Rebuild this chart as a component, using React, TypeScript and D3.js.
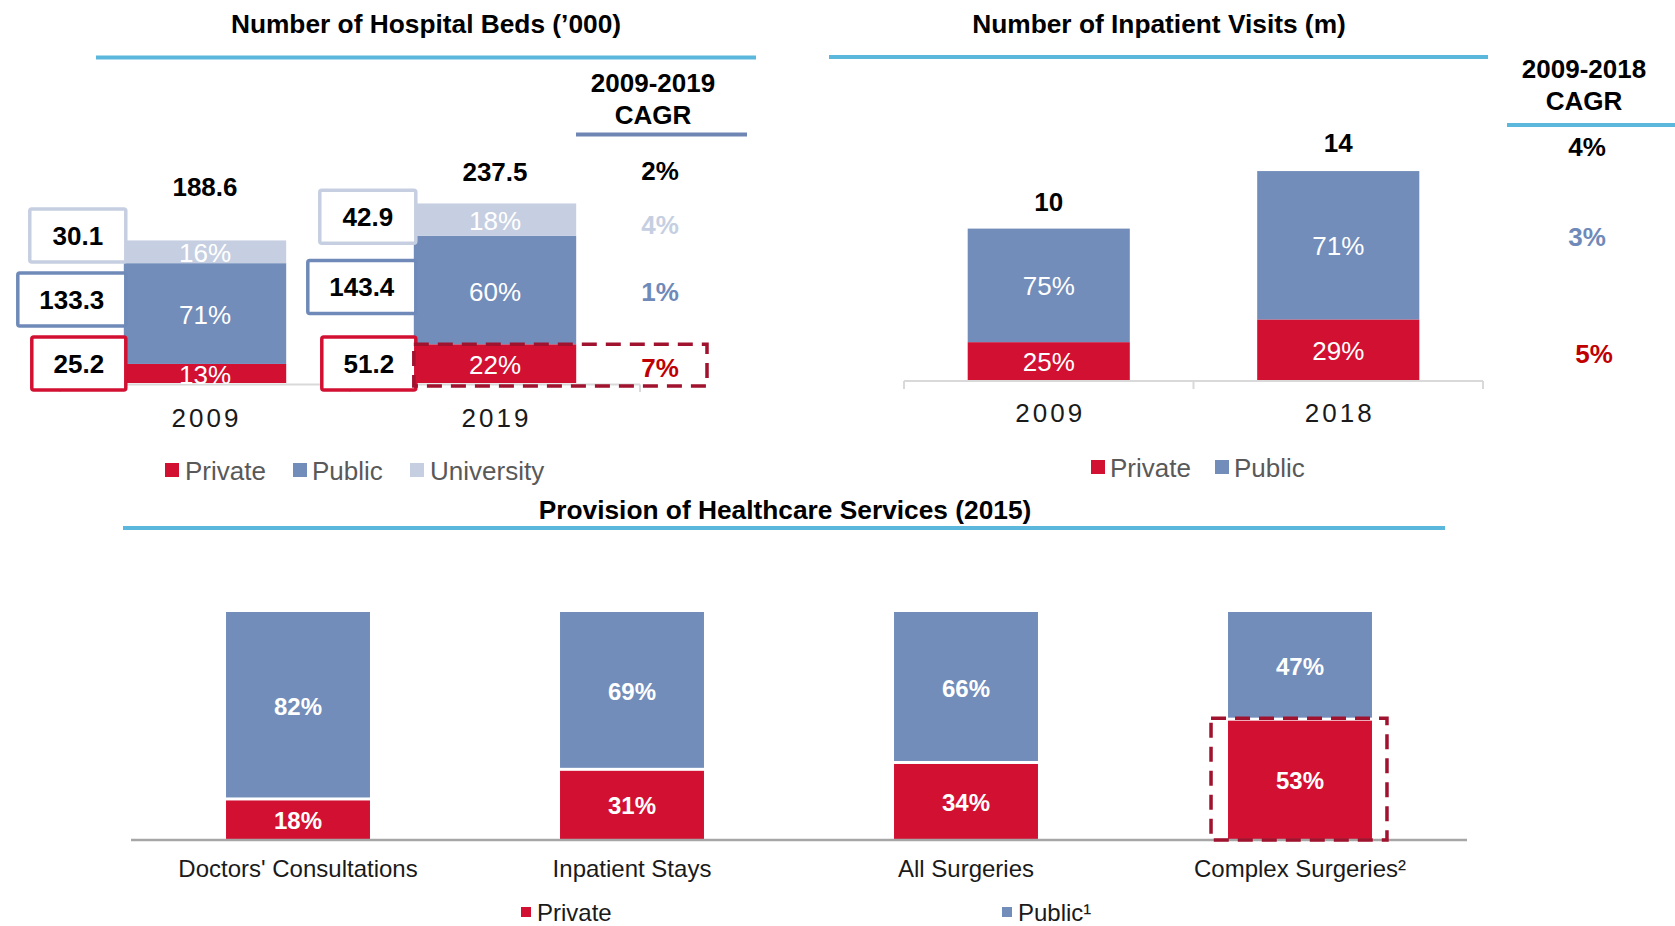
import React from "react";
import * as d3 from "d3";

// ---------- DATA ----------
const bedYears = ["2009", "2019"];
const bedsPrivate = [25.2, 51.2];
const bedsPublic = [133.3, 143.4];
const bedsUniversity = [30.1, 42.9];
const bedsCagrLabel = "2009-2019";
const bedsCagr = { total: "2%", University: "4%", Public: "1%", Private: "7%" };

const visitYears = ["2009", "2018"];
const visitsPrivate = [2.5, 4.0];
const visitsPublic = [7.5, 9.8];
const visitsCagrLabel = "2009-2018";
const visitsCagr = { total: "4%", Public: "3%", Private: "5%" };

const serviceCats = ["Doctors' Consultations", "Inpatient Stays", "All Surgeries", "Complex Surgeries²"];
const servicePrivate = [18, 31, 34, 53];
const servicePublic = [82, 69, 66, 47];

// ---------- STYLE ----------
const FONT = "'Liberation Sans', Arial, Helvetica, sans-serif";
const COL = {
  Private: "#D21032",
  Public: "#728DBA",
  University: "#C6CFE1",
  cyan: "#5BB7DC",
  steel: "#6F86B5",
  dashRed: "#A0122E",
  cagrRed: "#C00000",
  axis: "#D9D9D9",
  axisDark: "#A6A6A6",
  legendText: "#595959",
  boxPublic: "#6F8AB8",
};

function Title({ x, y, text, x1, x2, ly }: any) {
  return (
    <g>
      <text x={x} y={y} textAnchor="middle" dominantBaseline="central" fontFamily={FONT} fontWeight="bold" fontSize={26.3} fill="#000">
        {text}
      </text>
      <line x1={x1} x2={x2} y1={ly} y2={ly} stroke={COL.cyan} strokeWidth={4} />
    </g>
  );
}

function HospitalBeds() {
  const keys = ["Private", "Public", "University"];
  const rows = bedYears.map((yr, i) => ({ year: yr, Private: bedsPrivate[i], Public: bedsPublic[i], University: bedsUniversity[i] }));
  const totals = rows.map((r) => r.Private + r.Public + r.University);
  const x = d3.scaleBand().domain(bedYears).range([60, 640]).paddingInner(0.44).paddingOuter(0.22);
  const y = d3.scaleLinear().domain([0, 250]).range([383, 194]);
  const stack = d3.stack<any>().keys(keys)(rows as any);
  const bw = x.bandwidth();
  const totalOffsets = [53, 31];
  const boxW: any = { Private: 94, Public: 108, University: 96 };
  const boxBorder: any = { Private: COL.Private, Public: COL.boxPublic, University: COL.University };
  const boxH = 53;
  const boxGap = 11;

  // annotation boxes placed bottom-up
  const boxes: any[] = [];
  bedYears.forEach((yr, i) => {
    let prevTop = 0;
    stack.forEach((s, k) => {
      const d = s[i];
      const segC = (y(d[0]) + y(d[1])) / 2 - 3;
      let cy;
      if (k === 0) cy = y(0) + 7 - boxH / 2;
      else cy = Math.min(segC, prevTop - boxGap - boxH / 2);
      prevTop = cy - boxH / 2;
      const key = keys[k];
      boxes.push({ key, x: (x(yr) as number) - boxW[key] + 2, y: cy - boxH / 2, w: boxW[key], cy, value: (rows[i] as any)[key] });
    });
  });

  const last = bedYears.length - 1;
  const lastX = x(bedYears[last]) as number;
  const cagrX = 660;
  const segCenter = (k: number) => (y(stack[k][last][0]) + y(stack[k][last][1])) / 2;
  const cagrRows = [
    { text: bedsCagr.total, y: y(totals[last]) - totalOffsets[last] - 1, fill: "#000" },
    { text: bedsCagr.University, y: segCenter(2) + 5, fill: COL.University },
    { text: bedsCagr.Public, y: segCenter(1) + 2, fill: COL.boxPublic },
    { text: bedsCagr.Private, y: segCenter(0) + 4, fill: COL.cagrRed },
  ];

  const legendItems = [
    { key: "Private", sx: 165, tx: 185 },
    { key: "Public", sx: 293, tx: 312 },
    { key: "University", sx: 410, tx: 430 },
  ];

  return (
    <g>
      <Title x={426} y={23.5} text="Number of Hospital Beds (’000)" x1={96} x2={756} ly={57.5} />
      {/* CAGR header */}
      <text x={653} y={83} textAnchor="middle" dominantBaseline="central" fontFamily={FONT} fontWeight="bold" fontSize={26}>{bedsCagrLabel}</text>
      <text x={653} y={115} textAnchor="middle" dominantBaseline="central" fontFamily={FONT} fontWeight="bold" fontSize={26}>CAGR</text>
      <line x1={576} x2={747} y1={134.5} y2={134.5} stroke={COL.steel} strokeWidth={4} />

      {/* axis */}
      <line x1={60} x2={640} y1={384.5} y2={384.5} stroke={COL.axis} strokeWidth={2} />
      {[60, 60 + x.step(), 640].map((tx, i) => (
        <line key={i} x1={tx} x2={tx} y1={384.5} y2={392} stroke={COL.axis} strokeWidth={2} />
      ))}

      {/* bars */}
      {stack.map((s, k) => (
        <g key={keys[k]}>
          {s.map((d: any, i: number) => (
            <rect key={i} x={x(bedYears[i])} width={bw} y={y(d[1])} height={y(d[0]) - y(d[1])} fill={(COL as any)[keys[k]]} />
          ))}
        </g>
      ))}
      {/* inside labels */}
      {stack.map((s, k) =>
        s.map((d: any, i: number) => (
          <text key={keys[k] + i} x={(x(bedYears[i]) as number) + bw / 2} y={(y(d[0]) + y(d[1])) / 2 + 1.5} textAnchor="middle" dominantBaseline="central" fontFamily={FONT} fontSize={26} fill="#fff">
            {Math.round(((d[1] - d[0]) / totals[i]) * 100)}%
          </text>
        ))
      )}
      {/* totals */}
      {totals.map((t, i) => (
        <text key={i} x={(x(bedYears[i]) as number) + bw / 2} y={y(t) - totalOffsets[i]} textAnchor="middle" dominantBaseline="central" fontFamily={FONT} fontWeight="bold" fontSize={26}>
          {t.toFixed(1)}
        </text>
      ))}
      {/* value boxes */}
      {boxes.map((b, i) => (
        <g key={i}>
          <rect x={b.x} y={b.y} width={b.w} height={boxH} rx={2} fill="#fff" stroke={boxBorder[b.key]} strokeWidth={3.5} />
          <text x={b.x + b.w / 2} y={b.cy} textAnchor="middle" dominantBaseline="central" fontFamily={FONT} fontWeight="bold" fontSize={26}>
            {b.value.toFixed(1)}
          </text>
        </g>
      ))}
      {/* dashed highlight */}
      <rect x={lastX} y={y(bedsPrivate[last])} width={cagrX + 47 - lastX} height={y(0) + 3 - y(bedsPrivate[last])} fill="none" stroke={COL.dashRed} strokeWidth={3.5} strokeDasharray="15 9" />
      {/* CAGR values */}
      {cagrRows.map((c, i) => (
        <text key={i} x={cagrX} y={c.y} textAnchor="middle" dominantBaseline="central" fontFamily={FONT} fontWeight="bold" fontSize={26} fill={c.fill}>
          {c.text}
        </text>
      ))}
      {/* x labels */}
      {bedYears.map((yr) => (
        <text key={yr} x={(x(yr) as number) + bw / 2 + 1.5} y={418} textAnchor="middle" dominantBaseline="central" fontFamily={FONT} fontSize={26} letterSpacing={3} fill="#1a1a1a">
          {yr}
        </text>
      ))}
      {/* legend */}
      {legendItems.map((l) => (
        <g key={l.key}>
          <rect x={l.sx} y={463} width={14} height={14} fill={(COL as any)[l.key]} />
          <text x={l.tx} y={470.5} dominantBaseline="central" fontFamily={FONT} fontSize={26} fill={COL.legendText}>
            {l.key}
          </text>
        </g>
      ))}
    </g>
  );
}

function InpatientVisits() {
  const keys = ["Private", "Public"];
  const rows = visitYears.map((yr, i) => ({ year: yr, Private: visitsPrivate[i], Public: visitsPublic[i] }));
  const totals = rows.map((r) => r.Private + r.Public);
  const x = d3.scaleBand().domain(visitYears).range([904, 1483]).paddingInner(0.44).paddingOuter(0.22);
  const y = d3.scaleLinear().domain([0, 15]).range([380, 152.9]);
  const stack = d3.stack<any>().keys(keys)(rows as any);
  const bw = x.bandwidth();
  const totalOffsets = [27, 28];
  const last = visitYears.length - 1;
  const segCenter = (k: number) => (y(stack[k][last][0]) + y(stack[k][last][1])) / 2;
  const cagrX = 1587;
  const cagrRows = [
    { text: visitsCagr.total, y: y(totals[last]) - totalOffsets[last] + 4, fill: "#000" },
    { text: visitsCagr.Public, y: segCenter(1) - 8, fill: COL.boxPublic },
    { text: visitsCagr.Private, y: segCenter(0) + 4, fill: COL.cagrRed, dx: 7 },
  ];
  const legendItems = [
    { key: "Private", sx: 1091, tx: 1110 },
    { key: "Public", sx: 1215, tx: 1234 },
  ];
  return (
    <g>
      <Title x={1159} y={23.5} text="Number of Inpatient Visits (m)" x1={829} x2={1488} ly={57} />
      <text x={1584} y={68.5} textAnchor="middle" dominantBaseline="central" fontFamily={FONT} fontWeight="bold" fontSize={26}>{visitsCagrLabel}</text>
      <text x={1584} y={100.5} textAnchor="middle" dominantBaseline="central" fontFamily={FONT} fontWeight="bold" fontSize={26}>CAGR</text>
      <line x1={1507} x2={1675} y1={125} y2={125} stroke={COL.cyan} strokeWidth={4} />

      <line x1={904} x2={1483} y1={381} y2={381} stroke={COL.axis} strokeWidth={2} />
      {[904, 904 + x.step(), 1483].map((tx, i) => (
        <line key={i} x1={tx} x2={tx} y1={381} y2={389} stroke={COL.axis} strokeWidth={2} />
      ))}

      {stack.map((s, k) => (
        <g key={keys[k]}>
          {s.map((d: any, i: number) => (
            <rect key={i} x={x(visitYears[i])} width={bw} y={y(d[1])} height={y(d[0]) - y(d[1])} fill={(COL as any)[keys[k]]} />
          ))}
        </g>
      ))}
      {stack.map((s, k) =>
        s.map((d: any, i: number) => (
          <text key={keys[k] + i} x={(x(visitYears[i]) as number) + bw / 2} y={(y(d[0]) + y(d[1])) / 2 + 1} textAnchor="middle" dominantBaseline="central" fontFamily={FONT} fontSize={26} fill="#fff">
            {Math.round(((d[1] - d[0]) / totals[i]) * 100)}%
          </text>
        ))
      )}
      {totals.map((t, i) => (
        <text key={i} x={(x(visitYears[i]) as number) + bw / 2} y={y(t) - totalOffsets[i]} textAnchor="middle" dominantBaseline="central" fontFamily={FONT} fontWeight="bold" fontSize={26}>
          {Math.round(t)}
        </text>
      ))}
      {cagrRows.map((c: any, i) => (
        <text key={i} x={cagrX + (c.dx || 0)} y={c.y} textAnchor="middle" dominantBaseline="central" fontFamily={FONT} fontWeight="bold" fontSize={26} fill={c.fill}>
          {c.text}
        </text>
      ))}
      {visitYears.map((yr) => (
        <text key={yr} x={(x(yr) as number) + bw / 2 + 1.5} y={413} textAnchor="middle" dominantBaseline="central" fontFamily={FONT} fontSize={26} letterSpacing={3} fill="#1a1a1a">
          {yr}
        </text>
      ))}
      {legendItems.map((l) => (
        <g key={l.key}>
          <rect x={l.sx} y={460} width={14} height={14} fill={(COL as any)[l.key]} />
          <text x={l.tx} y={467.5} dominantBaseline="central" fontFamily={FONT} fontSize={26} fill={COL.legendText}>
            {l.key}
          </text>
        </g>
      ))}
    </g>
  );
}

function HealthcareServices() {
  const keys = ["Private", "Public"];
  const rows = serviceCats.map((c, i) => ({ cat: c, Private: servicePrivate[i], Public: servicePublic[i] }));
  const x = d3.scaleBand().domain(serviceCats).range([131, 1467]).paddingInner(0.569).paddingOuter(0.2845);
  const y = d3.scaleLinear().domain([0, 100]).range([840, 612]);
  const stack = d3.stack<any>().keys(keys)(rows as any);
  const bw = x.bandwidth();
  const hl = serviceCats[3];
  const hlX = x(hl) as number;
  const legendItems = [
    { key: "Private", label: "Private", sx: 521, tx: 537 },
    { key: "Public", label: "Public¹", sx: 1002, tx: 1018 },
  ];
  return (
    <g>
      <Title x={785} y={509.5} text="Provision of Healthcare Services (2015)" x1={123} x2={1445} ly={528} />
      {stack.map((s, k) => (
        <g key={keys[k]}>
          {s.map((d: any, i: number) => (
            <rect key={i} x={x(serviceCats[i])} width={bw} y={y(d[1]) + (k === 0 ? 1.5 : 0)} height={y(d[0]) - y(d[1]) - 1.5} fill={(COL as any)[keys[k]]} />
          ))}
        </g>
      ))}
      <line x1={131} x2={1467} y1={840} y2={840} stroke={COL.axisDark} strokeWidth={2.5} />
      {stack.map((s, k) =>
        s.map((d: any, i: number) => (
          <text key={keys[k] + i} x={(x(serviceCats[i]) as number) + bw / 2} y={(y(d[0]) + y(d[1])) / 2 + 1} textAnchor="middle" dominantBaseline="central" fontFamily={FONT} fontWeight="bold" fontSize={24} fill="#fff">
            {d[1] - d[0]}%
          </text>
        ))
      )}
      <rect x={hlX - 17} y={y(servicePrivate[3]) - 1} width={bw + 32} height={y(0) + 1 - y(servicePrivate[3])} fill="none" stroke={COL.dashRed} strokeWidth={3.5} strokeDasharray="15 9" />
      {serviceCats.map((c) => (
        <text key={c} x={(x(c) as number) + bw / 2} y={868.5} textAnchor="middle" dominantBaseline="central" fontFamily={FONT} fontSize={24} fill="#1a1a1a">
          {c}
        </text>
      ))}
      {legendItems.map((l) => (
        <g key={l.key}>
          <rect x={l.sx} y={907} width={10} height={10} fill={(COL as any)[l.key]} />
          <text x={l.tx} y={912.5} dominantBaseline="central" fontFamily={FONT} fontSize={24} fill="#1a1a1a">
            {l.label}
          </text>
        </g>
      ))}
    </g>
  );
}

export default function App() {
  return (
    <svg width={1675} height={926} style={{ position: "absolute", left: 0, top: 0, display: "block", background: "#fff" }}>
      <rect width={1675} height={926} fill="#fff" />
      <HospitalBeds />
      <InpatientVisits />
      <HealthcareServices />
    </svg>
  );
}
